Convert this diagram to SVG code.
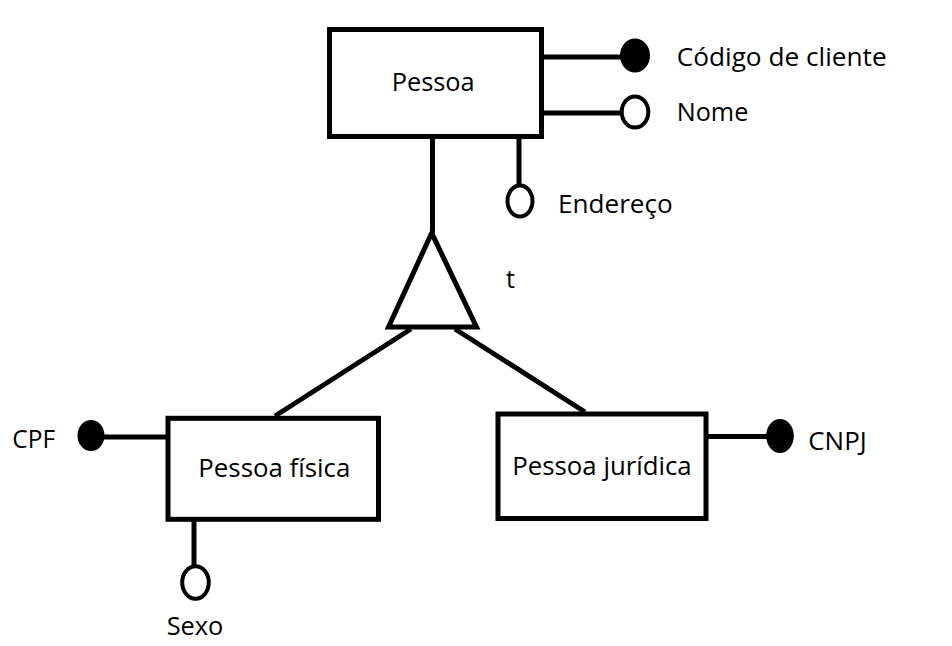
<svg xmlns="http://www.w3.org/2000/svg" width="952" height="646" viewBox="0 0 952 646">
<style>
.ent{fill:#fff;stroke:#000;stroke-width:5}
.ln{stroke:#000;stroke-width:5;fill:none}
.key{fill:#000;stroke:#000;stroke-width:2}
.att{fill:#fff;stroke:#000;stroke-width:4}
text{font-family:"Open Sans","Liberation Sans",sans-serif;font-size:25px;fill:#000}
</style>
<rect width="952" height="646" fill="#fff"/>
<g id="connectors">
<line class="ln" x1="544" y1="57" x2="622" y2="57"/>
<line class="ln" x1="544" y1="113" x2="622" y2="113"/>
<line class="ln" x1="519" y1="139" x2="519" y2="186"/>
<line class="ln" x1="432.5" y1="139" x2="432.5" y2="233"/>
<line class="ln" x1="411" y1="329" x2="275" y2="416"/>
<line class="ln" x1="455" y1="329" x2="585" y2="412"/>
<line class="ln" x1="166" y1="437" x2="92" y2="437"/>
<line class="ln" x1="194" y1="521" x2="194" y2="566"/>
<line class="ln" x1="708" y1="436.5" x2="780" y2="436.5"/>
</g>
<g id="pessoa">
<rect class="ent" x="329.5" y="29.5" width="212" height="107"/>
<text x="391.7" y="90.7" textLength="83" lengthAdjust="spacingAndGlyphs">Pessoa</text>
</g>
<g id="codigo">
<ellipse class="key" cx="635" cy="55.5" rx="14" ry="16"/>
<text x="676.7" y="65.7" textLength="210" lengthAdjust="spacingAndGlyphs">Código de cliente</text>
</g>
<g id="nome">
<ellipse class="att" cx="635" cy="112" rx="13.3" ry="15.5"/>
<text x="676.7" y="120.7" textLength="71.6" lengthAdjust="spacingAndGlyphs">Nome</text>
</g>
<g id="endereco">
<ellipse class="att" cx="520" cy="201" rx="12.5" ry="15.5"/>
<text x="558" y="213" textLength="114.7" lengthAdjust="spacingAndGlyphs">Endereço</text>
</g>
<g id="especializacao">
<polygon class="ln" stroke-linejoin="miter" points="431.7,233 388.5,327 476.5,327"/>
<text x="506" y="288">t</text>
</g>
<g id="pessoa-fisica">
<rect class="ent" x="168" y="418.3" width="210.5" height="101"/>
<text x="198.3" y="476.7" textLength="152" lengthAdjust="spacingAndGlyphs">Pessoa física</text>
</g>
<g id="cpf">
<ellipse class="key" cx="91" cy="435.5" rx="12.5" ry="14.5"/>
<text x="12.3" y="447.7" textLength="42.7" lengthAdjust="spacingAndGlyphs">CPF</text>
</g>
<g id="sexo">
<ellipse class="att" cx="195.5" cy="582.5" rx="13.3" ry="16.3"/>
<text x="166.7" y="635" textLength="56.7" lengthAdjust="spacingAndGlyphs">Sexo</text>
</g>
<g id="pessoa-juridica">
<rect class="ent" x="498" y="414" width="208" height="104.5"/>
<text x="512.3" y="475" textLength="179.4" lengthAdjust="spacingAndGlyphs">Pessoa jurídica</text>
</g>
<g id="cnpj">
<ellipse class="key" cx="780" cy="436" rx="12.8" ry="16"/>
<text x="808.3" y="450" textLength="58.4" lengthAdjust="spacingAndGlyphs">CNPJ</text>
</g>
</svg>
